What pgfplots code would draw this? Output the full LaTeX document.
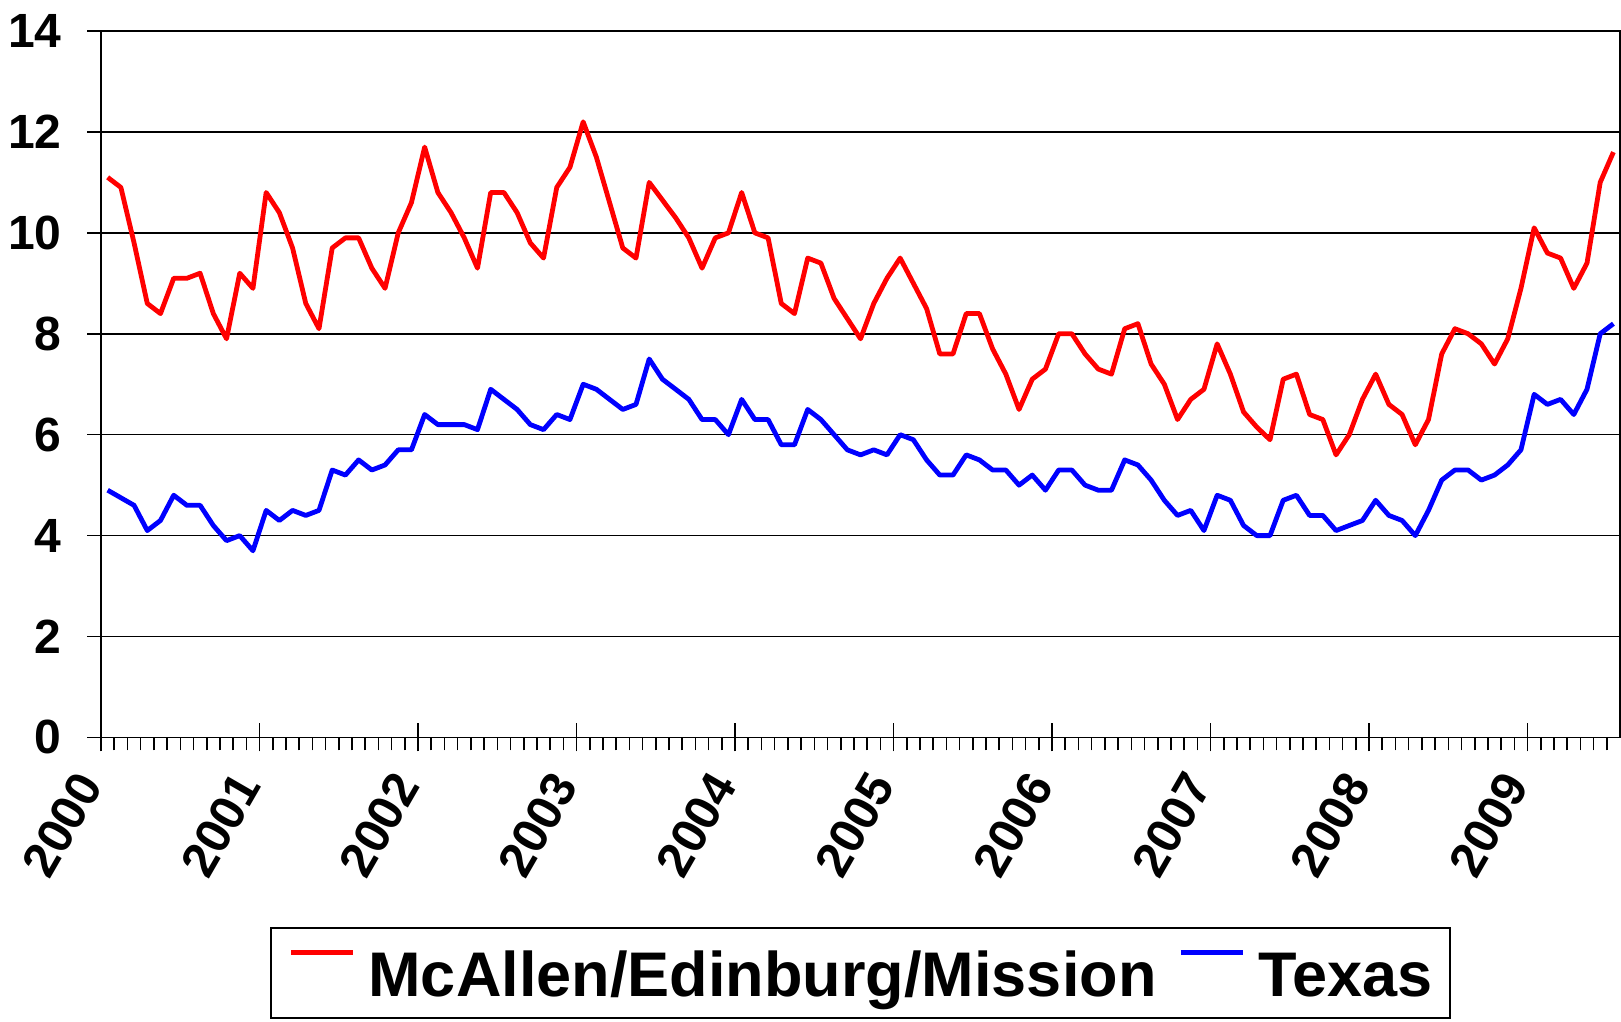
\documentclass[border=0pt]{standalone}
\usepackage{pgfplots}
\pgfplotsset{compat=1.18}
\usepackage{fontspec}
\setmainfont{Liberation Sans}
\definecolor{redline}{RGB}{255,0,0}
\definecolor{blueline}{RGB}{0,0,255}
\begin{document}
\begin{tikzpicture}
\begin{axis}[
  at={(0,0)}, anchor=south west,
  scale only axis, width=759pt, height=353pt,
  xmin=0, xmax=115, ymin=0, ymax=14,
  xtick={0,12,...,108},
  xticklabels={2000,2001,2002,2003,2004,2005,2006,2007,2008,2009},
  minor xtick={1,...,114},
  ytick={0,2,...,14},
  tick pos=left,
  ymajorgrids, grid style={black, line width=0.8pt},
  axis line style={black, line width=0.8pt},
  tick style={black, line width=0.8pt},
  tick align=center, major tick length=14pt, minor tick length=6.5pt,
  minor x tick style={yshift=-3.25pt},
  /pgf/number format/assume math mode=true,
  yticklabel style={font=\fontsize{24}{28}\selectfont\bfseries, anchor=east, inner sep=0pt, xshift=-12.5pt},
  xticklabel style={font=\fontsize{24.5}{28}\selectfont\bfseries, rotate=60, anchor=east, inner sep=0pt, xshift=-14pt, yshift=-1.5pt},
  legend style={at={(0.5,-0.2677)}, anchor=north, legend columns=2,
    draw=black, line width=1pt, inner xsep=9pt, inner ysep=0pt,
    font=\fontsize{31.5}{36}\selectfont\bfseries,
    nodes={inner sep=0pt, text height=34.5pt, text depth=10.5pt},
    /tikz/every odd column/.append style={column sep=6.5pt},
    /tikz/every even column/.append style={column sep=11pt}},
  legend image code/.code={\draw[#1] (0pt,10pt) -- (31pt,10pt);},
]
\addplot[redline, line width=2.4pt, line join=round] coordinates {
(0.5,11.1) (1.5,10.9) (2.5,9.8) (3.5,8.6) (4.5,8.4) (5.5,9.1) (6.5,9.1) (7.5,9.2) (8.5,8.4) (9.5,7.9) (10.5,9.2) (11.5,8.9)
(12.5,10.8) (13.5,10.4) (14.5,9.7) (15.5,8.6) (16.5,8.1) (17.5,9.7) (18.5,9.9) (19.5,9.9) (20.5,9.3) (21.5,8.9) (22.5,10.0) (23.5,10.6)
(24.5,11.7) (25.5,10.8) (26.5,10.4) (27.5,9.9) (28.5,9.3) (29.5,10.8) (30.5,10.8) (31.5,10.4) (32.5,9.8) (33.5,9.5) (34.5,10.9) (35.5,11.3)
(36.5,12.2) (37.5,11.5) (38.5,10.6) (39.5,9.7) (40.5,9.5) (41.5,11.0) (42.5,10.65) (43.5,10.3) (44.5,9.9) (45.5,9.3) (46.5,9.9) (47.5,10.0)
(48.5,10.8) (49.5,10.0) (50.5,9.9) (51.5,8.6) (52.5,8.4) (53.5,9.5) (54.5,9.4) (55.5,8.7) (56.5,8.3) (57.5,7.9) (58.5,8.6) (59.5,9.1)
(60.5,9.5) (61.5,9.0) (62.5,8.5) (63.5,7.6) (64.5,7.6) (65.5,8.4) (66.5,8.4) (67.5,7.7) (68.5,7.2) (69.5,6.5) (70.5,7.1) (71.5,7.3)
(72.5,8.0) (73.5,8.0) (74.5,7.6) (75.5,7.3) (76.5,7.2) (77.5,8.1) (78.5,8.2) (79.5,7.4) (80.5,7.0) (81.5,6.3) (82.5,6.7) (83.5,6.9)
(84.5,7.8) (85.5,7.2) (86.5,6.45) (87.5,6.15) (88.5,5.9) (89.5,7.1) (90.5,7.2) (91.5,6.4) (92.5,6.3) (93.5,5.6) (94.5,6.0) (95.5,6.7)
(96.5,7.2) (97.5,6.6) (98.5,6.4) (99.5,5.8) (100.5,6.3) (101.5,7.6) (102.5,8.1) (103.5,8.0) (104.5,7.8) (105.5,7.4) (106.5,7.9) (107.5,8.9)
(108.5,10.1) (109.5,9.6) (110.5,9.5) (111.5,8.9) (112.5,9.4) (113.5,11.0) (114.5,11.6)
};
\addlegendentry{McAllen/Edinburg/Mission}
\addplot[blueline, line width=2.4pt, line join=round] coordinates {
(0.5,4.9) (1.5,4.75) (2.5,4.6) (3.5,4.1) (4.5,4.3) (5.5,4.8) (6.5,4.6) (7.5,4.6) (8.5,4.2) (9.5,3.9) (10.5,4.0) (11.5,3.7)
(12.5,4.5) (13.5,4.3) (14.5,4.5) (15.5,4.4) (16.5,4.5) (17.5,5.3) (18.5,5.2) (19.5,5.5) (20.5,5.3) (21.5,5.4) (22.5,5.7) (23.5,5.7)
(24.5,6.4) (25.5,6.2) (26.5,6.2) (27.5,6.2) (28.5,6.1) (29.5,6.9) (30.5,6.7) (31.5,6.5) (32.5,6.2) (33.5,6.1) (34.5,6.4) (35.5,6.3)
(36.5,7.0) (37.5,6.9) (38.5,6.7) (39.5,6.5) (40.5,6.6) (41.5,7.5) (42.5,7.1) (43.5,6.9) (44.5,6.7) (45.5,6.3) (46.5,6.3) (47.5,6.0)
(48.5,6.7) (49.5,6.3) (50.5,6.3) (51.5,5.8) (52.5,5.8) (53.5,6.5) (54.5,6.3) (55.5,6.0) (56.5,5.7) (57.5,5.6) (58.5,5.7) (59.5,5.6)
(60.5,6.0) (61.5,5.9) (62.5,5.5) (63.5,5.2) (64.5,5.2) (65.5,5.6) (66.5,5.5) (67.5,5.3) (68.5,5.3) (69.5,5.0) (70.5,5.2) (71.5,4.9)
(72.5,5.3) (73.5,5.3) (74.5,5.0) (75.5,4.9) (76.5,4.9) (77.5,5.5) (78.5,5.4) (79.5,5.1) (80.5,4.7) (81.5,4.4) (82.5,4.5) (83.5,4.1)
(84.5,4.8) (85.5,4.7) (86.5,4.2) (87.5,4.0) (88.5,4.0) (89.5,4.7) (90.5,4.8) (91.5,4.4) (92.5,4.4) (93.5,4.1) (94.5,4.2) (95.5,4.3)
(96.5,4.7) (97.5,4.4) (98.5,4.3) (99.5,4.0) (100.5,4.5) (101.5,5.1) (102.5,5.3) (103.5,5.3) (104.5,5.1) (105.5,5.2) (106.5,5.4) (107.5,5.7)
(108.5,6.8) (109.5,6.6) (110.5,6.7) (111.5,6.4) (112.5,6.9) (113.5,8.0) (114.5,8.2)
};
\addlegendentry{Texas}
\end{axis}
\pgfresetboundingbox
\useasboundingbox (-50.5pt,-142pt) rectangle (759.5pt,368.5pt);
\end{tikzpicture}
\end{document}
